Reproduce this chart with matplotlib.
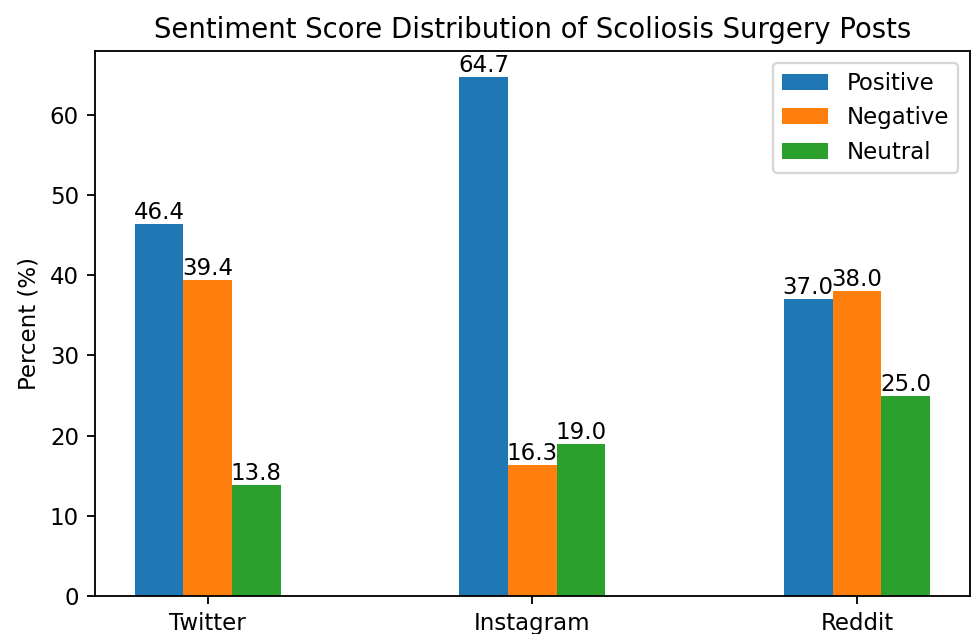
import matplotlib
matplotlib.use("Agg")
import matplotlib.pyplot as plt
import numpy as np

platforms = ["Twitter", "Instagram", "Reddit"]
positive = [46.4, 64.7, 37.0]
negative = [39.4, 16.3, 38.0]
neutral = [13.8, 19.0, 25.0]
series_names = ["Positive", "Negative", "Neutral"]

DPI = 165
fig = plt.figure(figsize=(975 / DPI, 634 / DPI), dpi=DPI)
ax = fig.add_axes([0.0974, 0.06, 0.9945 - 0.0974, 0.919 - 0.06])

x = np.arange(len(platforms))
w = 0.15
for i, (vals, name) in enumerate(zip([positive, negative, neutral], series_names)):
    bars = ax.bar(x + (i - 1) * w, vals, w, label=name)
    ax.bar_label(bars, labels=[f"{v:.1f}" for v in vals])

ax.set_xticks(x)
ax.set_xticklabels(platforms)
ax.set_ylabel("Percent (%)")
ax.set_title("Sentiment Score Distribution of Scoliosis Surgery Posts")
ax.legend(loc="upper right")
fig.savefig("out.png", dpi=DPI)
